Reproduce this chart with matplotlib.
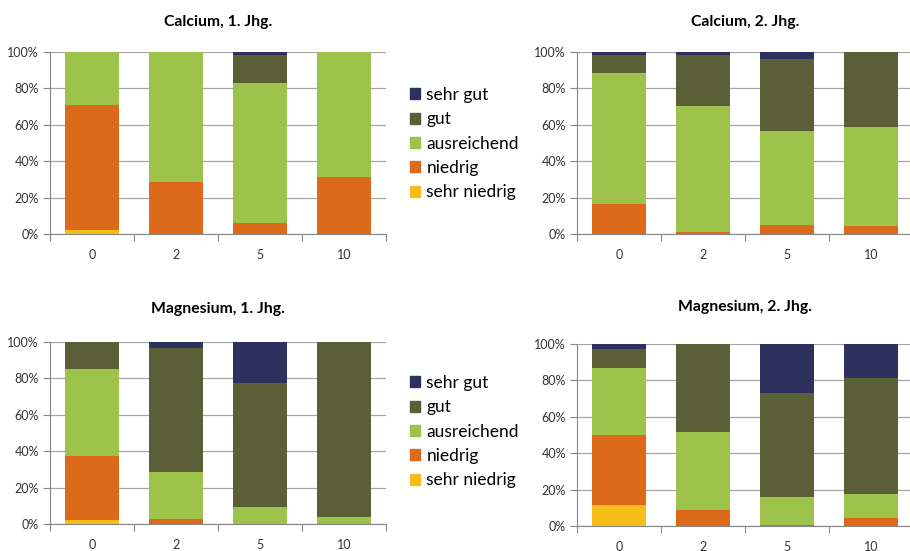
import numpy as np
import matplotlib.pyplot as plt
from matplotlib.patches import Patch

plt.rcParams['font.family'] = ['Lato', 'DejaVu Sans']

jahrgaenge = ['0', '2', '5', '10']
stufen = ['sehr niedrig', 'niedrig', 'ausreichend', 'gut', 'sehr gut']
farben = ['#F7BE18', '#DD691B', '#9DC34A', '#5A5F38', '#2E315E']

# Anteile in %, eine Zeile je Stufe (sehr niedrig ... sehr gut)
calcium_1 = [
    [2.4, 0.0, 0.0, 0.0],
    [68.5, 28.7, 5.9, 31.4],
    [29.1, 71.3, 77.1, 68.6],
    [0.0, 0.0, 15.4, 0.0],
    [0.0, 0.0, 1.6, 0.0],
]
calcium_2 = [
    [0.0, 0.0, 0.0, 0.0],
    [16.6, 1.3, 5.1, 4.6],
    [71.9, 69.1, 51.6, 54.3],
    [9.9, 28.0, 39.5, 41.1],
    [1.6, 1.6, 3.8, 0.0],
]
magnesium_1 = [
    [2.4, 0.0, 0.0, 0.0],
    [35.1, 2.9, 0.0, 0.0],
    [47.7, 25.8, 9.5, 4.0],
    [14.8, 68.0, 68.0, 96.0],
    [0.0, 3.3, 22.5, 0.0],
]
magnesium_2 = [
    [11.3, 0.0, 0.0, 0.0],
    [38.8, 9.0, 0.7, 4.6],
    [36.7, 42.7, 15.4, 13.1],
    [10.5, 48.3, 57.0, 63.7],
    [2.7, 0.0, 26.9, 18.6],
]

W, H = 910, 551
fig = plt.figure(figsize=(W / 100, H / 100), dpi=100)


def achse(links, oben, rechts, unten):
    return fig.add_axes([links / W, 1 - unten / H, (rechts - links) / W, (unten - oben) / H])


def panel(ax, werte, titel, titel_abstand=19):
    x = np.arange(len(jahrgaenge))
    basis = np.zeros(len(jahrgaenge))
    for stufe, farbe, reihe in zip(stufen, farben, werte):
        ax.bar(x, reihe, 0.65, bottom=basis, color=farbe, label=stufe, zorder=2)
        basis += np.array(reihe)

    ax.set_xlim(-0.5, len(jahrgaenge) - 0.5)
    ax.set_ylim(0, 100)
    ax.set_yticks(range(0, 101, 20))
    ax.set_yticklabels([f'{v}%' for v in range(0, 101, 20)], fontsize=9, color='#333333')
    ax.yaxis.grid(True, color='#A6A6A6', lw=0.9, zorder=0)
    ax.set_axisbelow(True)

    # Striche an den Kategoriegrenzen, Beschriftung in der Mitte
    ax.set_xticks(np.arange(-0.5, len(jahrgaenge), 1))
    ax.set_xticklabels([])
    ax.set_xticks(x, minor=True)
    ax.set_xticklabels(jahrgaenge, minor=True, fontsize=9, color='#333333')
    ax.tick_params(axis='x', which='major', length=5, color='#868686')
    ax.tick_params(axis='x', which='minor', length=0, pad=11)
    ax.tick_params(axis='y', length=5, color='#868686', pad=3)

    for s in ['top', 'right']:
        ax.spines[s].set_visible(False)
    for s in ['left', 'bottom']:
        ax.spines[s].set_color('#868686')

    ax.set_title(titel, fontsize=11.3, fontweight='bold', pad=titel_abstand)


panel(achse(50, 52, 386, 234), calcium_1, 'Calcium, 1. Jhg.')
panel(achse(577, 52, 913, 234), calcium_2, 'Calcium, 2. Jhg.')
panel(achse(50, 342, 386, 524), magnesium_1, 'Magnesium, 1. Jhg.', 21)
panel(achse(577, 344, 913, 526), magnesium_2, 'Magnesium, 2. Jhg.', 24)

griffe = [Patch(color=f, label=s) for s, f in zip(stufen, farben)][::-1]
for y in (87, 375):
    fig.legend(handles=griffe, loc='upper left', bbox_to_anchor=(410 / W, 1 - y / H),
               frameon=False, fontsize=12.5, handlelength=0.6, handleheight=0.6,
               handletextpad=0.35, labelspacing=0.48, borderaxespad=0, borderpad=0)

fig.savefig('out.png', dpi=100)
